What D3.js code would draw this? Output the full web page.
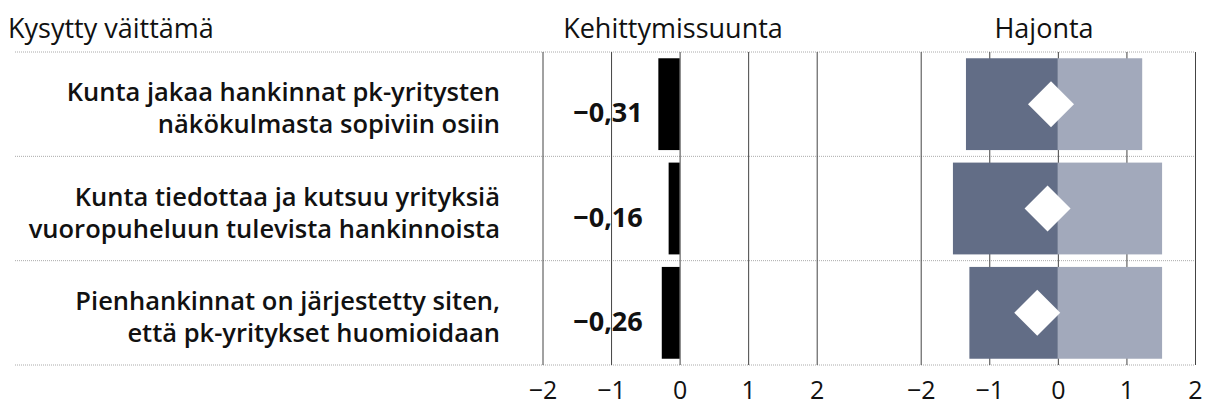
<!DOCTYPE html>
<html>
<head>
<meta charset="utf-8">
<script src="https://cdn.jsdelivr.net/npm/d3@7"></script>
<style>
  body { margin: 0; background: #fff; }
  svg { display: block; font-family: "Open Sans", sans-serif; }
</style>
</head>
<body>
<div id="chart"></div>
<script>
// kysytyt väittämät (two lines each)
var statements = [
  ["Kunta jakaa hankinnat pk-yritysten", "näkökulmasta sopiviin osiin"],
  ["Kunta tiedottaa ja kutsuu yrityksiä", "vuoropuheluun tulevista hankinnoista"],
  ["Pienhankinnat on järjestetty siten,", "että pk-yritykset huomioidaan"]
];
var trend = [-0.31, -0.16, -0.26];      // Kehittymissuunta
var spreadLow = [-1.34, -1.53, -1.29];  // Hajonta, vasen pää
var spreadHigh = [1.23, 1.52, 1.52];    // Hajonta, oikea pää
var spreadMid = [-0.10, -0.15, -0.30];  // vinoneliö
var ticks = [-2, -1, 0, 1, 2];

var width = 1205, height = 406;
var rows = d3.range(statements.length);

var svg = d3.select("#chart").append("svg")
  .attr("width", width)
  .attr("height", height);

var xL = d3.scaleLinear().domain([-2, 2]).range([542.5, 816.7]);
var xR = d3.scaleLinear().domain([-2, 2]).range([920.7, 1195]);
var y = d3.scaleBand().domain(rows).range([52, 365]).paddingInner(0.12).paddingOuter(0.06);
var step = y.step();
var rowTop = function(i) { return 52 + i * step; };
var rowMid = function(i) { return rowTop(i) + step / 2; };

var fi = d3.formatLocale({ decimal: ",", thousands: " ", grouping: [3], minus: "\u2212" });
var fmtVal = fi.format(".2f");
var fmtTick = fi.format("d");

// titles
svg.append("text").attr("x", 8).attr("y", 38)
  .attr("font-size", 27).attr("fill", "#111").text("Kysytty väittämä");
svg.append("text").attr("x", 673).attr("y", 38).attr("text-anchor", "middle")
  .attr("font-size", 27).attr("fill", "#111").text("Kehittymissuunta");
svg.append("text").attr("x", 1044).attr("y", 38).attr("text-anchor", "middle")
  .attr("font-size", 27).attr("fill", "#111").text("Hajonta");

// dotted row separators
svg.append("g").selectAll("line")
  .data(d3.range(statements.length + 1))
  .join("line")
  .attr("x1", 15).attr("x2", 1195)
  .attr("y1", function(i) { return rowTop(i); })
  .attr("y2", function(i) { return rowTop(i); })
  .attr("stroke", "#aaa")
  .attr("stroke-dasharray", "1,1");

// vertical grid, both panels
[xL, xR].forEach(function(x) {
  var ax = svg.append("g")
    .attr("transform", "translate(0,365)")
    .call(d3.axisBottom(x).tickValues(ticks).tickFormat(fmtTick).tickSize(-313));
  ax.select(".domain").remove();
  ax.selectAll(".tick line").attr("stroke", "#444");
  ax.selectAll(".tick text")
    .attr("font-family", "'Open Sans', sans-serif")
    .attr("font-size", 25)
    .attr("fill", "#111")
    .attr("dy", 0)
    .attr("y", 34);
});

// statement labels
var lab = svg.append("g").selectAll("text")
  .data(rows)
  .join("text")
  .attr("text-anchor", "end")
  .attr("font-size", 25.5)
  .attr("font-weight", 600)
  .attr("fill", "#111");
lab.each(function(i) {
  var t = d3.select(this);
  statements[i].forEach(function(line, k) {
    t.append("tspan").attr("x", 500).attr("y", rowMid(i) - 3 + k * 32).text(line);
  });
});

// trend bars
svg.append("g").selectAll("rect")
  .data(rows)
  .join("rect")
  .attr("x", function(i) { return xL(Math.min(0, trend[i])); })
  .attr("width", function(i) { return Math.abs(xL(trend[i]) - xL(0)); })
  .attr("y", function(i) { return y(i); })
  .attr("height", y.bandwidth())
  .attr("fill", "#000");

svg.append("g").selectAll("text")
  .data(rows)
  .join("text")
  .attr("x", 608)
  .attr("y", function(i) { return rowMid(i) + 18; })
  .attr("text-anchor", "middle")
  .attr("font-size", 27)
  .attr("font-weight", 700)
  .attr("fill", "#111")
  .text(function(i) { return fmtVal(trend[i]); });

// spread bars
var sp = svg.append("g");
sp.selectAll("rect.low")
  .data(rows)
  .join("rect")
  .attr("class", "low")
  .attr("x", function(i) { return xR(spreadLow[i]); })
  .attr("width", function(i) { return xR(0) - xR(spreadLow[i]); })
  .attr("y", function(i) { return y(i); })
  .attr("height", y.bandwidth())
  .attr("fill", "#626d86");
sp.selectAll("rect.high")
  .data(rows)
  .join("rect")
  .attr("class", "high")
  .attr("x", xR(0))
  .attr("width", function(i) { return xR(spreadHigh[i]) - xR(0); })
  .attr("y", function(i) { return y(i); })
  .attr("height", y.bandwidth())
  .attr("fill", "#a2a9bb");

var diamond = d3.symbol().type(d3.symbolSquare).size(1058);
sp.selectAll("path")
  .data(rows)
  .join("path")
  .attr("d", diamond)
  .attr("transform", function(i) {
    return "translate(" + xR(spreadMid[i]) + "," + (y(i) + y.bandwidth() / 2) + ") rotate(45)";
  })
  .attr("fill", "#fff");
</script>
</body>
</html>
